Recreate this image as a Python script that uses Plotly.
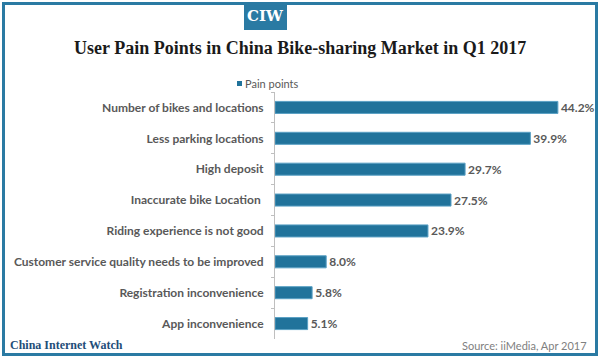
import plotly.graph_objects as go

categories = [
    "Number of bikes and locations",
    "Less parking locations",
    "High deposit",
    "Inaccurate bike Location ",
    "Riding experience is not good",
    "Customer service quality needs to be improved",
    "Registration inconvenience",
    "App inconvenience",
]
values = [44.2, 39.9, 29.7, 27.5, 23.9, 8.0, 5.8, 5.1]
series_name = "Pain points"

BAR = "#21739b"
BORDER = "#2a7aa3"
GRAY = "#595959"
W, H = 600, 359

def px(x):
    return x / W
def py(y):
    return 1 - y / H

fig = go.Figure()
fig.add_trace(go.Bar(
    y=categories, x=values, orientation="h", name=series_name,
    marker=dict(color=BAR, line=dict(color="#5aa0c4", width=1)),
    texttemplate="%{x:.1f}%", textposition="outside", constraintext="none",
    textfont=dict(family="Lato", size=12, color=GRAY, weight="bold"),
    cliponaxis=False, showlegend=False,
))

fig.update_layout(
    width=W, height=H, autosize=False,
    margin=dict(l=0, r=0, t=0, b=0),
    paper_bgcolor="white", plot_bgcolor="white",
    bargap=0.61,
    showlegend=False,
    xaxis=dict(range=[0, 50], visible=False, fixedrange=True,
               domain=[px(275), px(595)]),
    yaxis=dict(autorange="reversed", showline=True, linecolor="#bfbfbf", linewidth=1,
               ticks="outside", ticklen=3, tickcolor="#bfbfbf", tickson="boundaries",
               tickfont=dict(family="Lato", size=12, color=GRAY, weight="bold"),
               ticklabelstandoff=8, showgrid=False, automargin=False,
               domain=[py(339), py(92)]),
)

# frame
fig.add_shape(type="rect", xref="paper", yref="paper", x0=px(3.5), x1=px(596.5), y0=py(354.5), y1=py(3.5),
              line=dict(color=BORDER, width=3), layer="above")
# CIW badge
fig.add_shape(type="rect", xref="paper", yref="paper", x0=px(244), x1=px(287), y0=py(30), y1=py(2),
              line=dict(width=0), fillcolor=BORDER, layer="above")
fig.add_annotation(x=px(265.5), y=py(16.5), xref="paper", yref="paper", yanchor="middle", text="<b>CIW</b>",
                   showarrow=False, font=dict(family="DejaVu Serif", size=15, color="white"))
# title
fig.add_annotation(x=px(300), y=py(48), xref="paper", yref="paper", yanchor="middle",
                   text="<b>User Pain Points in China Bike-sharing Market in Q1 2017</b>",
                   showarrow=False, font=dict(family="Liberation Serif", size=18, color="#1a1a1a"))
# legend
fig.add_shape(type="rect", xref="paper", yref="paper", x0=px(237), x1=px(242), y0=py(86), y1=py(81),
              line=dict(width=0), fillcolor=BAR)
fig.add_annotation(x=px(243), y=py(83.5), xref="paper", yref="paper", xanchor="left", yanchor="middle",
                   text=series_name, showarrow=False,
                   font=dict(family="Lato", size=11, color=GRAY))
# footer
fig.add_annotation(x=px(8), y=py(345), xref="paper", yref="paper", xanchor="left", yanchor="middle",
                   text="<b>China Internet Watch</b>", showarrow=False,
                   font=dict(family="Liberation Serif", size=12, color="#1f4e79"))
fig.add_annotation(x=px(589), y=py(345), xref="paper", yref="paper", xanchor="right", yanchor="middle",
                   text="Source: iiMedia, Apr 2017", showarrow=False,
                   font=dict(family="Lato", size=11, color="#808080"))

fig.write_html("out.html", config={"displayModeBar": False},
               post_script="document.body.style.margin='0';document.body.style.overflow='hidden';")
